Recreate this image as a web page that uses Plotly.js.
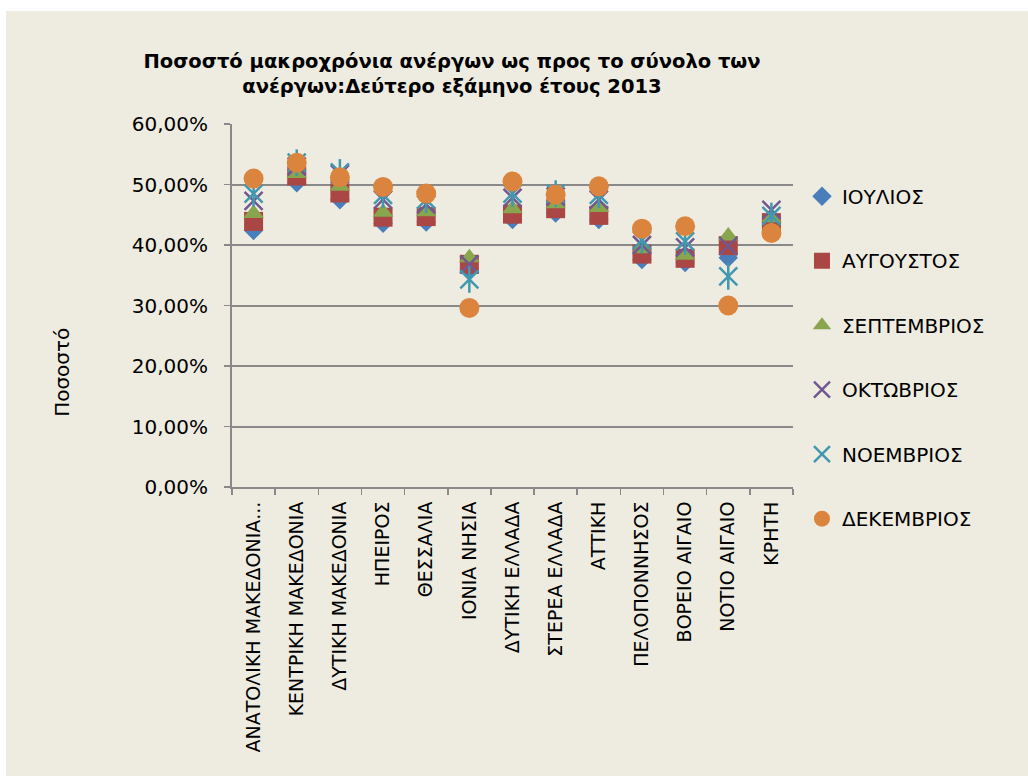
<!DOCTYPE html>
<html>
<head>
<meta charset="utf-8">
<script src="https://cdn.plot.ly/plotly-3.0.1.min.js"></script>
<style>
  html, body { margin: 0; padding: 0; background: #ffffff; }
  #chart { position: absolute; left: 6px; top: 11px; width: 1022px; height: 765px; }
</style>
</head>
<body>
<div id="chart"></div>
<script>
const categories = [
  'ΑΝΑΤΟΛΙΚΗ ΜΑΚΕΔΟΝΙΑ...', 'ΚΕΝΤΡΙΚΗ ΜΑΚΕΔΟΝΙΑ', 'ΔΥΤΙΚΗ ΜΑΚΕΔΟΝΙΑ', 'ΗΠΕΙΡΟΣ',
  'ΘΕΣΣΑΛΙΑ', 'ΙΟΝΙΑ ΝΗΣΙΑ', 'ΔΥΤΙΚΗ ΕΛΛΑΔΑ', 'ΣΤΕΡΕΑ ΕΛΛΑΔΑ', 'ΑΤΤΙΚΗ',
  'ΠΕΛΟΠΟΝΝΗΣΟΣ', 'ΒΟΡΕΙΟ ΑΙΓΑΙΟ', 'ΝΟΤΙΟ ΑΙΓΑΙΟ', 'ΚΡΗΤΗ'
];
const months = ['ΙΟΥΛΙΟΣ', 'ΑΥΓΟΥΣΤΟΣ', 'ΣΕΠΤΕΜΒΡΙΟΣ', 'ΟΚΤΩΒΡΙΟΣ', 'ΝΟΕΜΒΡΙΟΣ', 'ΔΕΚΕΜΒΡΙΟΣ'];

// values in percent
const julyValues      = [42.4, 50.3, 47.5, 43.6, 43.8, 36.0, 44.2, 45.3, 44.2, 37.6, 37.1, 37.9, 43.2];
const augustValues    = [43.9, 51.4, 48.6, 44.6, 44.7, 36.8, 45.1, 46.0, 44.9, 38.5, 37.8, 39.9, 43.7];
const septemberValues = [45.2, 51.8, 49.7, 45.4, 45.5, 37.9, 46.0, 46.8, 46.2, 39.4, 38.3, 41.5, 44.5];
const octoberValues   = [47.3, 53.0, 51.7, 47.5, 46.7, 36.8, 47.8, 48.0, 47.5, 40.0, 39.6, 39.8, 45.8];
const novemberValues  = [48.5, 53.6, 52.0, 48.3, 47.5, 34.3, 48.5, 48.5, 48.3, 40.8, 40.6, 34.8, 44.8];
const decemberValues  = [51.0, 53.6, 51.2, 49.6, 48.5, 29.6, 50.5, 48.3, 49.7, 42.7, 43.1, 30.0, 42.0];

const yTickValues = [0, 10, 20, 30, 40, 50, 60];
const yTickLabels = ['0,00%', '10,00%', '20,00%', '30,00%', '40,00%', '50,00%', '60,00%'];
const yAxisTitle = 'Ποσοστό';

const FONT = 'DejaVu Sans';
const BG = '#EEECE1';
const GRID = '#898989';

function series(name, values, symbol, color, size, group, extra) {
  const isLine = symbol.indexOf('open') >= 0;
  return Object.assign({
    type: 'scatter',
    mode: 'markers',
    name: name,
    x: categories,
    y: values,
    legendgroup: group,
    marker: isLine
      ? { symbol: symbol, size: size, color: color, line: { color: color, width: 2.5 } }
      : { symbol: symbol, size: size, color: color, line: { width: 0 } },
    hovertemplate: '%{x}: %{y:.2f}%<extra>' + name + '</extra>'
  }, extra || {});
}

const traces = [
  series(months[0], julyValues, 'diamond', '#4A7EBB', 15, 'g1'),
  series(months[1], augustValues, 'square', '#AA4643', 19, 'g2'),
  series(months[2], septemberValues, 'triangle-up', '#89A54E', 18, 'g3'),
  series(months[3], octoberValues, 'x-thin-open', '#71588F', 18, 'g4'),
  series(months[4], novemberValues, 'x-thin-open', '#4198AF', 18, 'g5'),
  series(months[4], novemberValues, 'line-ns-open', '#4198AF', 19, 'g5', { showlegend: false }),
  series(months[5], decemberValues, 'circle', '#DB843D', 20, 'g6')
];

const layout = {
  width: 1022,
  height: 765,
  paper_bgcolor: BG,
  plot_bgcolor: BG,
  separators: ',.',
  font: { family: FONT, size: 19, color: '#000000' },
  margin: { l: 226, r: 235, t: 113, b: 289, autoexpand: false },
  title: {
    text: 'Ποσοστό μακροχρόνια ανέργων ως προς το σύνολο των<br>ανέργων:Δεύτερο εξάμηνο έτους 2013',
    font: { family: FONT, size: 19.5, color: '#000000', weight: 'bold' },
    x: 446 / 1022,
    xanchor: 'center',
    y: 1 - 57 / 765,
    yanchor: 'middle',
    xref: 'container',
    yref: 'container'
  },
  xaxis: {
    type: 'category',
    range: [-0.5, categories.length - 0.5],
    showgrid: false,
    showline: true,
    linecolor: GRID,
    linewidth: 2,
    ticks: 'outside',
    tickson: 'boundaries',
    ticklen: 6,
    tickcolor: GRID,
    tickwidth: 1.5,
    tickangle: -90,
    tickfont: { family: FONT, size: 19, color: '#000000' },
    ticklabelstandoff: 5,
    zeroline: false,
    fixedrange: true
  },
  yaxis: {
    range: [0, 60],
    tickmode: 'array',
    tickvals: yTickValues,
    ticktext: yTickLabels,
    showgrid: true,
    gridcolor: GRID,
    gridwidth: 2,
    showline: true,
    linecolor: GRID,
    linewidth: 2,
    ticks: 'outside',
    ticklen: 6,
    tickcolor: GRID,
    tickwidth: 1.5,
    tickfont: { family: FONT, size: 20, color: '#000000' },
    ticklabelstandoff: 12,
    zeroline: false,
    automargin: false,
    fixedrange: true
  },
  annotations: [{
    text: yAxisTitle,
    textangle: -90,
    xref: 'paper',
    yref: 'paper',
    x: (56 - 226) / 561,
    y: (476 - 362) / 362.5,
    xanchor: 'center',
    yanchor: 'middle',
    showarrow: false,
    font: { family: FONT, size: 20, color: '#000000' }
  }],
  showlegend: true,
  legend: {
    x: 1.016,
    xanchor: 'left',
    y: 0.855,
    yanchor: 'top',
    bgcolor: 'rgba(0,0,0,0)',
    borderwidth: 0,
    traceorder: 'grouped',
    tracegroupgap: 35.5,
    font: { family: FONT, size: 20, color: '#000000' },
    itemclick: false,
    itemdoubleclick: false
  }
};

Plotly.newPlot('chart', traces, layout, { displayModeBar: false, staticPlot: true });
</script>
</body>
</html>
